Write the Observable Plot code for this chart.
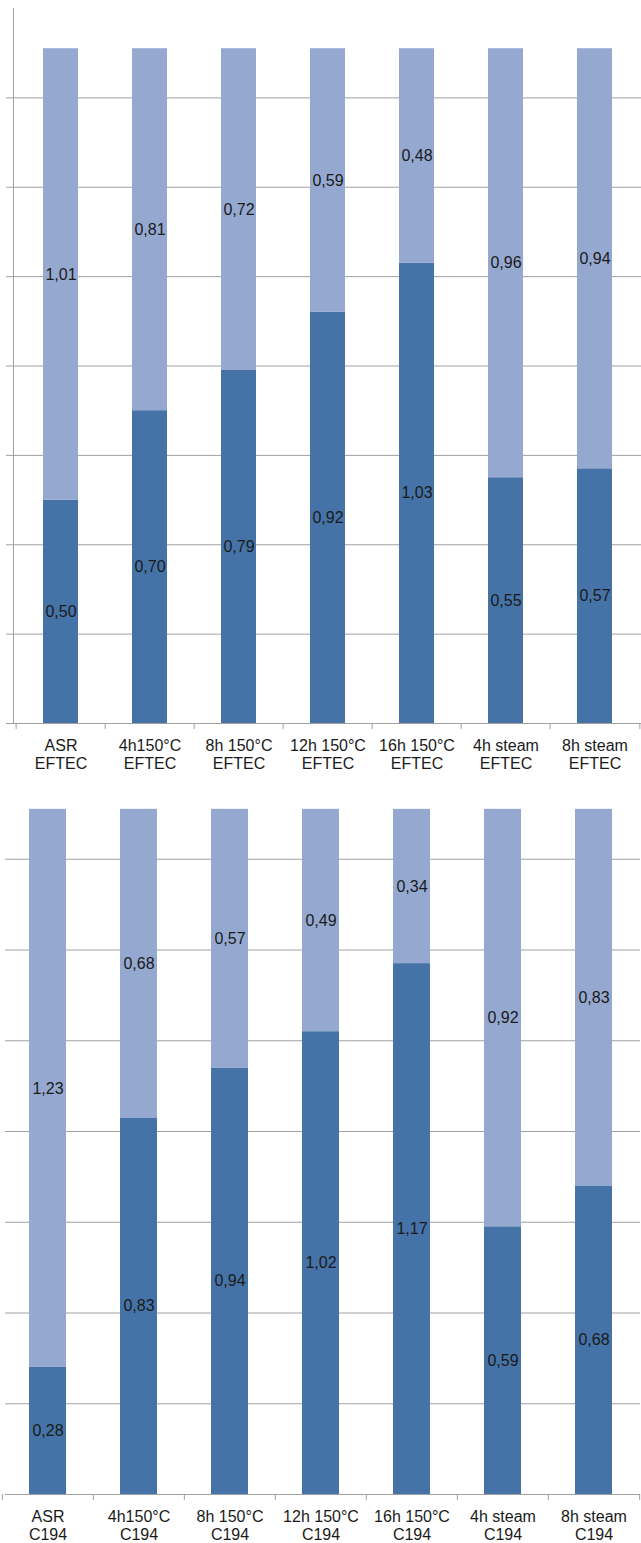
<!DOCTYPE html>
<html>
<head>
<meta charset="utf-8">
<script src="https://cdn.jsdelivr.net/npm/d3@7"></script>
<script src="https://cdn.jsdelivr.net/npm/@observablehq/plot@0.6"></script>
<style>
  html, body { margin: 0; padding: 0; background: #fff; }
  #page { position: relative; width: 641px; height: 1543px; overflow: hidden; }
  #page > div { position: absolute; left: 0; }
  #top { top: 0; }
  #bottom { top: 760px; }
</style>
</head>
<body>
<div id="page"><div id="top"></div><div id="bottom"></div></div>
<script>
// EFTEC samples
const eftecLabels = ["ASR\nEFTEC", "4h150°C\nEFTEC", "8h 150°C\nEFTEC", "12h 150°C\nEFTEC", "16h 150°C\nEFTEC", "4h steam\nEFTEC", "8h steam\nEFTEC"];
const eftecLower = [0.50, 0.70, 0.79, 0.92, 1.03, 0.55, 0.57];
const eftecUpper = [1.01, 0.81, 0.72, 0.59, 0.48, 0.96, 0.94];

// C194 samples
const c194Labels = ["ASR\nC194", "4h150°C\nC194", "8h 150°C\nC194", "12h 150°C\nC194", "16h 150°C\nC194", "4h steam\nC194", "8h steam\nC194"];
const c194Lower = [0.28, 0.83, 0.94, 1.02, 1.17, 0.59, 0.68];
const c194Upper = [1.23, 0.68, 0.57, 0.49, 0.34, 0.92, 0.83];

const gridValues = [0, 0.2, 0.4, 0.6, 0.8, 1.0, 1.2, 1.4];
const yDomain = [0, 1.6];

const lowerColor = "#4573a7";
const upperColor = "#95a9d0";
const lineColor = "#a0a0a0";
const textColor = "#1a1a1a";

function tidy(labels, lower, upper) {
  return labels.flatMap((c, i) => [
    {category: c, part: "lower", value: lower[i]},
    {category: c, part: "upper", value: upper[i]}
  ]);
}

function stackedChart({labels, lower, upper, height, marginLeft, marginRight, marginTop, marginBottom, paddingInner, gridInset, showYAxis}) {
  const width = 641;
  const data = tidy(labels, lower, upper);
  const step = (width - marginLeft - marginRight) / labels.length;
  const marks = [
    Plot.ruleY(gridValues, {stroke: lineColor, strokeWidth: 1, insetLeft: gridInset}),
    Plot.barY(data, Plot.stackY({x: "category", y: "value", z: "part", fill: "part"})),
    Plot.text(data, Plot.stackY({
      x: "category", y: "value", z: "part",
      text: d => d.value.toFixed(2).replace(".", ","),
      fill: textColor
    })),
    // tick marks at the category boundaries
    Plot.axisX({ticks: labels, tickSize: 6, tickFormat: () => "", dx: -step / 2, stroke: lineColor, label: null}),
    Plot.axisX({ticks: [labels[labels.length - 1]], tickSize: 6, tickFormat: () => "", dx: step / 2, stroke: lineColor, label: null}),
    // category labels
    Plot.axisX({tickSize: 0, tickPadding: 14, lineHeight: 1.15, fill: textColor, label: null})
  ];
  if (showYAxis) marks.push(Plot.frame({anchor: "left", stroke: lineColor}));
  return Plot.plot({
    width, height, marginLeft, marginRight, marginTop, marginBottom,
    style: {fontFamily: "'Liberation Sans', Arial, sans-serif", fontSize: "16px", background: "transparent", overflow: "visible", color: textColor},
    x: {domain: labels, paddingInner, paddingOuter: paddingInner / 2, label: null},
    y: {domain: yDomain, axis: null},
    color: {domain: ["lower", "upper"], range: [lowerColor, upperColor]},
    marks
  });
}

document.getElementById("top").append(stackedChart({
  labels: eftecLabels, lower: eftecLower, upper: eftecUpper,
  height: 760, marginLeft: 13, marginRight: 0, marginTop: 8, marginBottom: 37,
  paddingInner: 0.61, gridInset: -7, showYAxis: true
}));

document.getElementById("bottom").append(stackedChart({
  labels: c194Labels, lower: c194Lower, upper: c194Upper,
  height: 783, marginLeft: 1, marginRight: 1, marginTop: 8, marginBottom: 49,
  paddingInner: 0.595, gridInset: 4, showYAxis: false
}));
</script>
</body>
</html>
